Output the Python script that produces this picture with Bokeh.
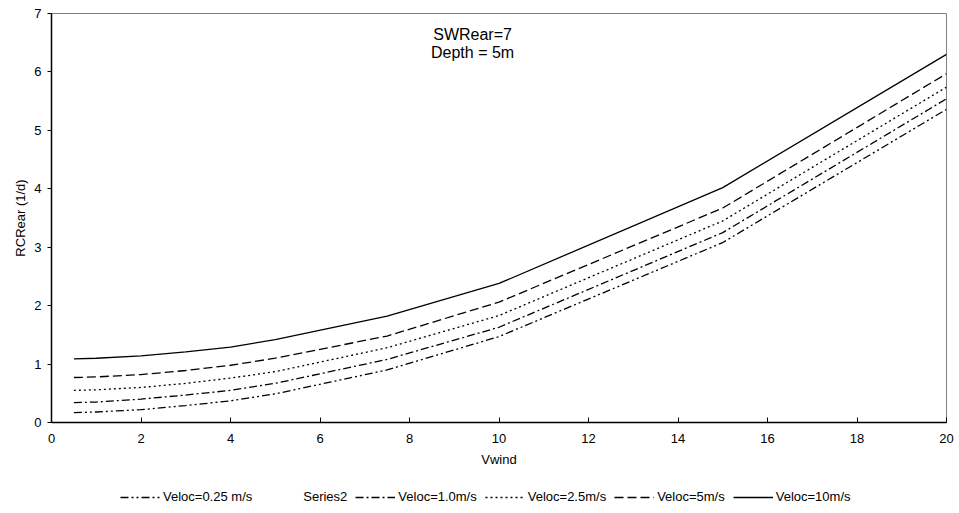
from bokeh.plotting import figure
from bokeh.layouts import column
from bokeh.models import Range1d, FixedTicker, Legend, LegendItem, Label
from bokeh.embed import file_html
from bokeh.resources import INLINE

vwind = [0.5, 1, 2, 3, 4, 5, 7.5, 10, 15, 20]
veloc_025 = [0.17, 0.18, 0.22, 0.29, 0.37, 0.49, 0.90, 1.47, 3.08, 5.36]
series2 = []
veloc_10 = [0.34, 0.35, 0.40, 0.47, 0.55, 0.67, 1.08, 1.63, 3.25, 5.54]
veloc_25 = [0.55, 0.56, 0.60, 0.67, 0.76, 0.87, 1.28, 1.83, 3.45, 5.74]
veloc_5 = [0.77, 0.78, 0.82, 0.89, 0.98, 1.10, 1.48, 2.06, 3.67, 5.97]
veloc_10ms = [1.09, 1.10, 1.14, 1.21, 1.29, 1.42, 1.82, 2.38, 4.02, 6.30]

labels = ["Veloc=0.25 m/s", "Series2", "Veloc=1.0m/s", "Veloc=2.5m/s", "Veloc=5m/s", "Veloc=10m/s"]
x_ticks = [0, 2, 4, 6, 8, 10, 12, 14, 16, 18, 20]
y_ticks = [0, 1, 2, 3, 4, 5, 6, 7]

FONT = "Liberation Sans"
series = [veloc_025, series2, veloc_10, veloc_25, veloc_5, veloc_10ms]
dashes = ["8 3 2 3 2 3", "solid", "8 3 2 3", "2 3", "9 4", "solid"]
alphas = [1, 0, 1, 1, 1, 1]

p = figure(frame_width=895, frame_height=409, output_backend="svg", toolbar_location=None,
           x_range=Range1d(0, 20), y_range=Range1d(0, 7),
           min_border_left=51, min_border_right=8, min_border_top=13, min_border_bottom=56)
p.grid.visible = False
p.outline_line_color = "#808080"
p.outline_line_width = 1
p.background_fill_color = "white"
p.border_fill_color = "white"

for ax in (p.xaxis[0], p.yaxis[0]):
    ax.axis_line_color = "black"
    ax.axis_line_width = 1.5
    ax.major_tick_line_color = "black"
    ax.minor_tick_line_color = None
    ax.major_label_text_font = FONT
    ax.major_label_text_font_size = "13px"
    ax.major_label_text_color = "black"
    ax.axis_label_text_font = FONT
    ax.axis_label_text_font_size = "13px"
    ax.axis_label_text_font_style = "normal"
    ax.axis_label_text_color = "black"

p.xaxis.ticker = FixedTicker(ticks=x_ticks)
p.yaxis.ticker = FixedTicker(ticks=y_ticks)
p.xaxis.major_tick_in = 5
p.xaxis.major_tick_out = 0
p.xaxis.major_label_standoff = 11
p.xaxis.axis_label = "Vwind"
p.xaxis.axis_label_standoff = 6
p.yaxis.major_tick_in = 0
p.yaxis.major_tick_out = 4
p.yaxis.major_label_standoff = 6
p.yaxis.axis_label = "RCRear (1/d)"
p.yaxis.axis_label_standoff = 3

for ys, dash, a in zip(series, dashes, alphas):
    xs = vwind[:len(ys)]
    p.line(xs, ys, line_color="black", line_width=1.3, line_dash=dash, line_alpha=a)

p.add_layout(Label(x=9.41, y=6.64, text="SWRear=7", text_align="center", text_baseline="middle",
                   text_font=FONT, text_font_size="16px", text_color="black"))
p.add_layout(Label(x=9.41, y=6.34, text="Depth = 5m", text_align="center", text_baseline="middle",
                   text_font=FONT, text_font_size="16px", text_color="black"))

# legend strip under the chart: same series, drawn outside this strip's visible range
q = figure(frame_width=895, frame_height=30, output_backend="svg", toolbar_location=None,
           x_range=Range1d(0, 20), y_range=Range1d(100, 101),
           x_axis_location=None, y_axis_location=None,
           min_border_left=51, min_border_right=8, min_border_top=0, min_border_bottom=0)
q.grid.visible = False
q.outline_line_color = None
q.background_fill_color = "white"
q.border_fill_color = "white"

items = []
for lab, ys, dash, a in zip(labels, series, dashes, alphas):
    xs = vwind[:len(ys)] if ys else [0.0]
    yy = ys if ys else [0.0]
    r = q.line(xs, yy, line_color="black", line_width=1.3, line_dash=dash, line_alpha=a)
    items.append(LegendItem(label=lab, renderers=[r]))

legend = Legend(items=items, orientation="horizontal", location=(69, 4))
legend.glyph_width = 40
legend.glyph_height = 14
legend.label_height = 14
legend.label_standoff = 3
legend.spacing = 8
legend.padding = 0
legend.margin = 0
legend.border_line_color = None
legend.background_fill_alpha = 0
legend.label_text_font = FONT
legend.label_text_font_size = "13px"
legend.label_text_color = "black"
q.add_layout(legend, "center")

layout = column(p, q, spacing=0)
open("out.html", "w").write(file_html(layout, INLINE))
